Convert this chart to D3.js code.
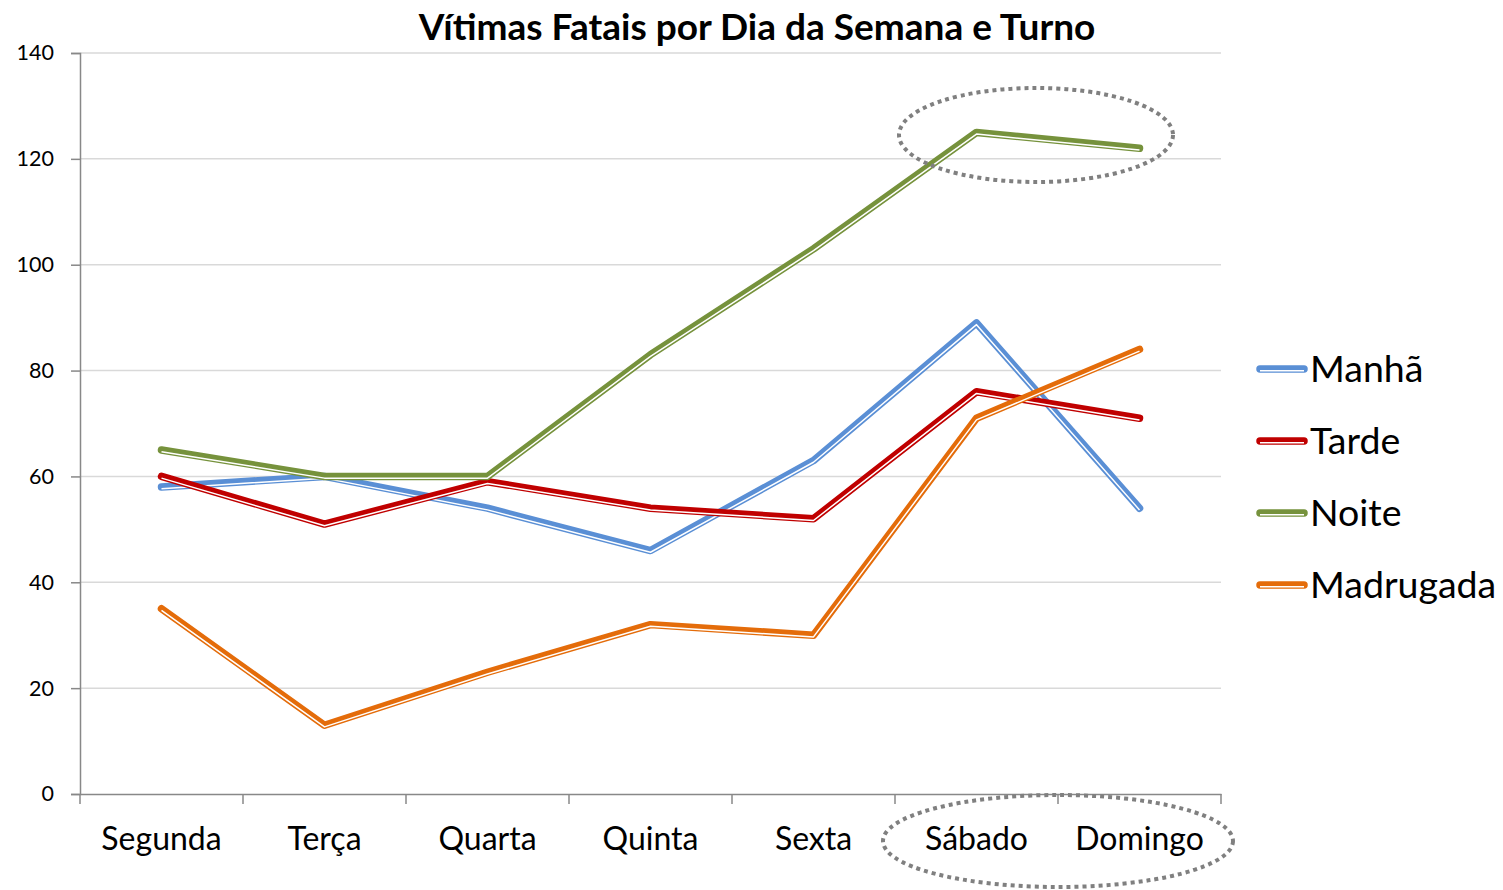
<html>
<head>
<meta charset="utf-8">
<title>Vítimas Fatais por Dia da Semana e Turno</title>
<style>
  body { margin: 0; background: #fff; }
  text { font-family: "Lato", "Open Sans", sans-serif; }
</style>
</head>
<body>
<script src="https://cdn.jsdelivr.net/npm/d3@7"></script>
<script>
var width = 1503;
var height = 890;

// dados
var dias = ["Segunda", "Terça", "Quarta", "Quinta", "Sexta", "Sábado", "Domingo"];
var turnos = ["Manhã", "Tarde", "Noite", "Madrugada"];
var manha = [58, 60, 54, 46, 63, 89, 54];
var tarde = [60, 51, 59, 54, 52, 76, 71];
var noite = [65, 60, 60, 83, 103, 125, 122];
var madrugada = [35, 13, 23, 32, 30, 71, 84];
var yTicks = [0, 20, 40, 60, 80, 100, 120, 140];
var cores = ["#5a8fd5", "#c00000", "#76923c", "#e46c0a"];

var series = [manha, tarde, noite, madrugada];

var svg = d3.select("body").append("svg")
  .attr("width", width)
  .attr("height", height);

var x = d3.scaleBand().domain(dias).range([80, 1221]);
var y = d3.scaleLinear().domain([0, 140]).range([794, 53]);

// grade horizontal
svg.append("g").selectAll("line")
  .data(yTicks.slice(1))
  .enter().append("line")
  .attr("x1", 80).attr("x2", 1221)
  .attr("y1", function(d) { return y(d); })
  .attr("y2", function(d) { return y(d); })
  .attr("stroke", "#d9d9d9")
  .attr("stroke-width", 1.5);

// eixo y
var yAxis = svg.append("g")
  .attr("transform", "translate(80,0)")
  .call(d3.axisLeft(y).tickValues(yTicks).tickSize(9).tickPadding(17));
yAxis.select(".domain").attr("stroke", "#888").attr("stroke-width", 1.5);
yAxis.selectAll(".tick line").attr("stroke", "#888").attr("stroke-width", 1.5);
yAxis.selectAll(".tick text").attr("font-size", 21.5).attr("fill", "#000")
  .style("font-family", "Lato, sans-serif");

// eixo x
var xAxis = svg.append("g")
  .attr("transform", "translate(0,794)")
  .call(d3.axisBottom(x).tickSize(0).tickPadding(33));
xAxis.select(".domain").attr("stroke", "#888").attr("stroke-width", 1.5);
xAxis.selectAll(".tick text").attr("font-size", 32).attr("fill", "#000")
  .style("font-family", "Lato, sans-serif");

// marcas entre categorias
var bordas = dias.map(function(d) { return x(d); }).concat([x.range()[1]]);
svg.append("g").selectAll("line")
  .data(bordas)
  .enter().append("line")
  .attr("x1", function(d) { return d; }).attr("x2", function(d) { return d; })
  .attr("y1", 794).attr("y2", 804)
  .attr("stroke", "#888").attr("stroke-width", 1.5);

// linhas (estilo duplo)
var line = d3.line()
  .x(function(d, i) { return x(dias[i]) + x.bandwidth() / 2; })
  .y(function(d) { return y(d); });

series.forEach(function(s, k) {
  svg.append("path")
    .attr("d", line(s))
    .attr("fill", "none")
    .attr("stroke", cores[k])
    .attr("stroke-width", 7.5)
    .attr("stroke-linejoin", "round")
    .attr("stroke-linecap", "round");
  svg.append("path")
    .attr("d", line(s))
    .attr("transform", "translate(0,1.7)")
    .attr("fill", "none")
    .attr("stroke", "#fff")
    .attr("stroke-width", 1.5)
    .attr("stroke-linejoin", "round");
});

// elipses pontilhadas
svg.append("ellipse")
  .attr("cx", 1036).attr("cy", 135).attr("rx", 137).attr("ry", 47)
  .attr("fill", "none").attr("stroke", "#808080")
  .attr("stroke-width", 4).attr("stroke-dasharray", "4 4");
svg.append("ellipse")
  .attr("cx", 1058).attr("cy", 841).attr("rx", 175).attr("ry", 46)
  .attr("fill", "none").attr("stroke", "#808080")
  .attr("stroke-width", 4).attr("stroke-dasharray", "4 4");

// titulo
svg.append("text")
  .attr("x", 757).attr("y", 40)
  .attr("text-anchor", "middle")
  .attr("font-size", 37)
  .attr("font-weight", "bold")
  .text("Vítimas Fatais por Dia da Semana e Turno");

// legenda
var leg = svg.append("g").selectAll("g")
  .data(turnos)
  .enter().append("g")
  .attr("transform", function(d, i) { return "translate(1258," + (369 + i * 72) + ")"; });
leg.append("line")
  .attr("x1", 2).attr("x2", 46).attr("y1", 0).attr("y2", 0)
  .attr("stroke", function(d, i) { return cores[i]; })
  .attr("stroke-width", 7.5).attr("stroke-linecap", "round");
leg.append("line")
  .attr("x1", 2).attr("x2", 46).attr("y1", 1.7).attr("y2", 1.7)
  .attr("stroke", "#fff").attr("stroke-width", 1.5);
leg.append("text")
  .attr("x", 52).attr("y", 13)
  .attr("font-size", 37.5)
  .text(function(d) { return d; });
</script>
</body>
</html>
